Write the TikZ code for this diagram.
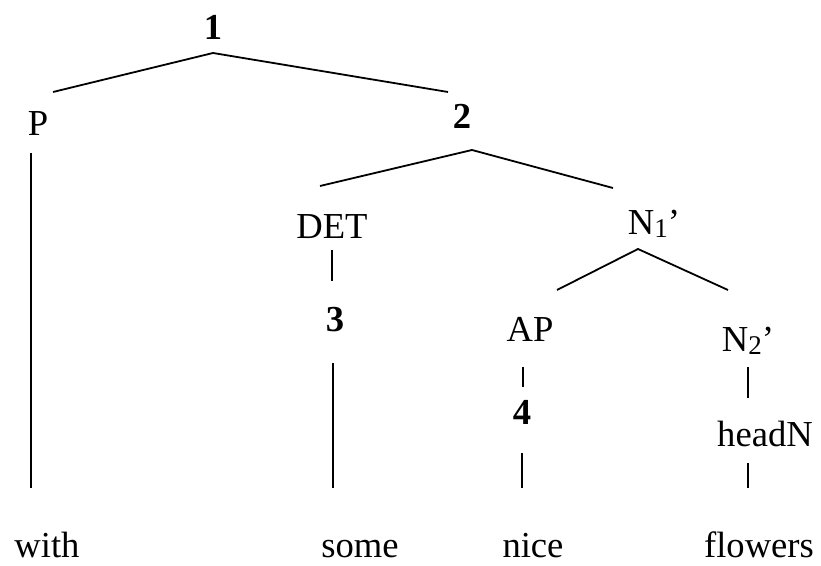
\documentclass[tikz,border=0pt]{standalone}
\usepackage{fontspec}
\setmainfont{Liberation Serif}
\usetikzlibrary{positioning}
\newcommand{\subidx}[1]{\raisebox{-1.2pt}{\fontsize{13.5}{14}\selectfont #1}}

\begin{document}
\begin{tikzpicture}[x=0.5pt,y=-0.5pt,line width=0.9pt,
  every node/.style={anchor=base,inner sep=0pt,font=\fontsize{18.3}{22}\selectfont},
  num/.style={font=\fontsize{18.3}{22}\selectfont\bfseries}]
\useasboundingbox (0,0) rectangle (821,566);
% labels
\node[num] (n1) at (213,40) {1};
\node (p) at (38,136) {P};
\node[num] (n2) at (462,129) {2};
\node (det) at (332,239) {DET};
\node (nbar1) at (654,235) {N\subidx{1}'};
\node[num] (n3) at (335,332) {3};
\node (ap) at (530,342) {AP};
\node (nbar2) at (748,352) {N\subidx{2}'};
\node[num] (n4) at (522,425) {4};
\node (headn) at (765,447) {headN};
% words
\node (with) at (47,558) {with};
\node (some) at (360,558) {some};
\node (nice) at (533,558) {nice};
\node (flowers) at (759,558) {flowers};
% branch points and line ends
\coordinate (j1) at (213,53);
\coordinate (j2) at (472,150);
\coordinate (j3) at (638,249);
\coordinate (p-up) at (53,92);
\coordinate (n2-up) at (448,92);
\coordinate (det-up) at (320,186);
\coordinate (nbar1-up) at (613,188);
\coordinate (ap-up) at (557,290);
\coordinate (nbar2-up) at (728,290);
\coordinate (p-dn) at (31,153);
\coordinate (with-up) at (31,488);
\coordinate (det-dn) at (332,250);
\coordinate (n3-up) at (332,281);
\coordinate (n3-dn) at (333,363);
\coordinate (some-up) at (333,488);
\coordinate (ap-dn) at (523,367);
\coordinate (n4-up) at (523,387);
\coordinate (n4-dn) at (522,453);
\coordinate (nice-up) at (522,488);
\coordinate (nbar2-dn) at (748,367);
\coordinate (headn-up) at (748,398);
\coordinate (headn-dn) at (748,463);
\coordinate (flowers-up) at (748,488);
% tree
\draw (p-up)--(j1)--(n2-up);
\draw (det-up)--(j2)--(nbar1-up);
\draw (ap-up)--(j3)--(nbar2-up);
\draw (p-dn)--(with-up);
\draw (det-dn)--(n3-up);
\draw (n3-dn)--(some-up);
\draw (ap-dn)--(n4-up);
\draw (n4-dn)--(nice-up);
\draw (nbar2-dn)--(headn-up);
\draw (headn-dn)--(flowers-up);
\end{tikzpicture}
\end{document}
